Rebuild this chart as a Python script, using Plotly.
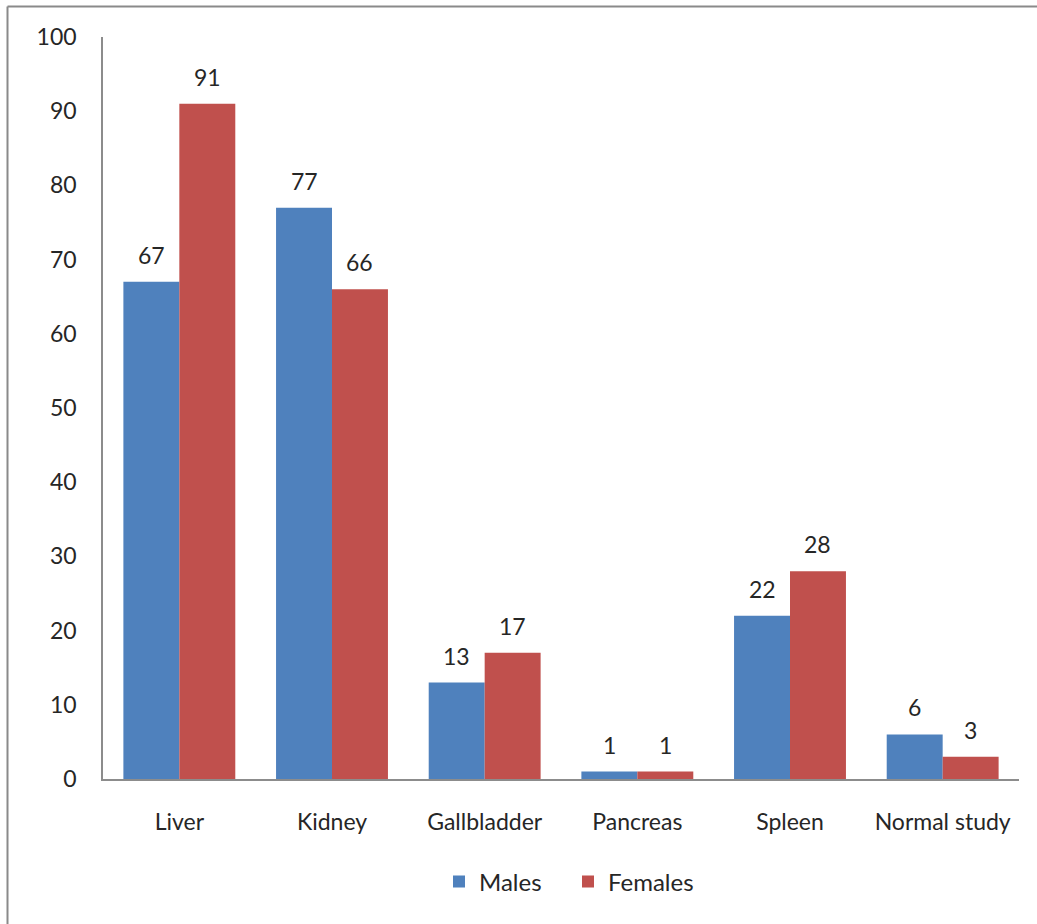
import plotly.graph_objects as go

# Findings per organ, split by sex
categories = ["Liver", "Kidney", "Gallbladder", "Pancreas", "Spleen", "Normal study"]
males = [67, 77, 13, 1, 22, 6]
females = [91, 66, 17, 1, 28, 3]
y_ticks = [0, 10, 20, 30, 40, 50, 60, 70, 80, 90, 100]

BLUE = "#4F81BD"
RED = "#C0504D"
TEXT = "#262626"
FONT = "Lato, Carlito, Calibri, sans-serif"

W, H = 1037, 924
L, R, T, B = 103, 18, 37, 145
pw, ph = W - L - R, H - T - B

fig = go.Figure()
fig.add_trace(go.Bar(name="Males", x=categories, y=males, marker_color=BLUE,
                     marker_line_width=0))
fig.add_trace(go.Bar(name="Females", x=categories, y=females, marker_color=RED,
                     marker_line_width=0))

# Value labels above each bar
bar_px = pw / len(categories) * (1 - 0.267) / 2
for series, shift in ((males, -bar_px / 2), (females, bar_px / 2)):
    for cat, val in zip(categories, series):
        fig.add_annotation(x=cat, y=val, xref="x", yref="y", text=str(val),
                           showarrow=False, xshift=shift, yshift=11,
                           yanchor="bottom",
                           font=dict(family=FONT, size=23, color=TEXT))

def px_to_paper_x(px):
    return (px - L) / pw

def px_to_paper_y(py):
    return (H - B - py) / ph

# Outer frame (top and left edges)
frame = dict(color="#8A8A8A", width=2)
fig.add_shape(type="line", xref="paper", yref="paper",
              x0=px_to_paper_x(7.5), y0=px_to_paper_y(6.5),
              x1=px_to_paper_x(W + 5), y1=px_to_paper_y(6.5), line=frame)
fig.add_shape(type="line", xref="paper", yref="paper",
              x0=px_to_paper_x(7.5), y0=px_to_paper_y(6.5),
              x1=px_to_paper_x(7.5), y1=px_to_paper_y(H + 5), line=frame)

fig.update_layout(
    width=W, height=H,
    margin=dict(l=L, r=R, t=T, b=B),
    paper_bgcolor="white", plot_bgcolor="white",
    barmode="group", bargap=0.267, bargroupgap=0,
    font=dict(family=FONT, size=23, color=TEXT),
    showlegend=True,
    legend=dict(orientation="h", x=px_to_paper_x(439), xanchor="left",
                y=px_to_paper_y(882), yanchor="middle",
                font=dict(family=FONT, size=24, color=TEXT),
                itemwidth=30, entrywidth=84, entrywidthmode="pixels",
                traceorder="normal"),
    xaxis=dict(showgrid=False, showline=True, linecolor="#8C8C8C", linewidth=1.5,
               ticks="", ticklabelstandoff=22,
               tickfont=dict(family=FONT, size=23, color=TEXT)),
    yaxis=dict(range=[0, 100], tickvals=y_ticks, showgrid=False,
               showline=True, linecolor="#8C8C8C", linewidth=1.5,
               ticks="", ticklabelstandoff=20, zeroline=False,
               tickfont=dict(family=FONT, size=23, color=TEXT)),
)

fig.write_html("out.html")
